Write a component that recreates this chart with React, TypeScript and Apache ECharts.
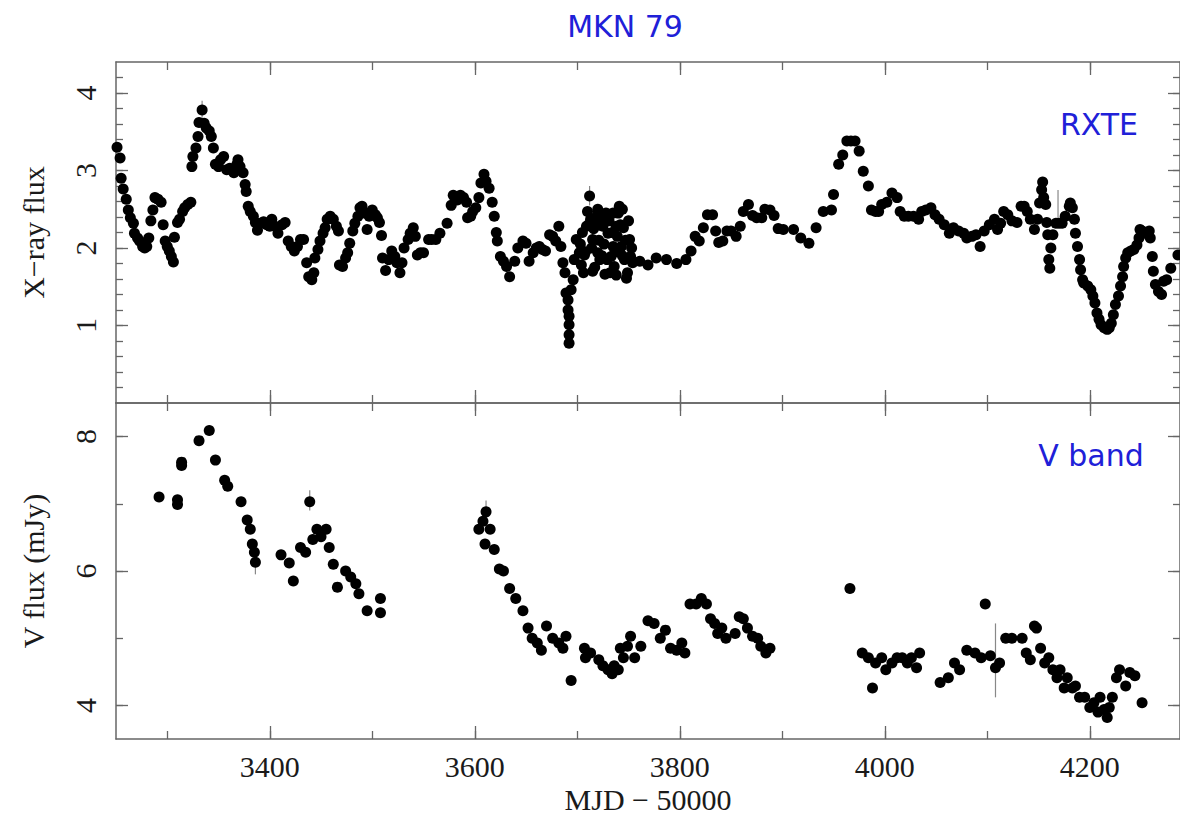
import React, { useEffect, useRef } from "react";
import * as echarts from "echarts";

// ---- axis ranges / ticks ----
const X_MIN = 3250;
const X_MAX = 4288;
const xLabelTicks = [3400, 3600, 3800, 4000, 4200];
const xMinorTicks = [3300, 3400, 3500, 3600, 3700, 3800, 3900, 4000, 4100, 4200];
const yTopMajor = [1, 2, 3, 4];
const yTopMinor = [0.2, 0.4, 0.6, 0.8, 1, 1.2, 1.4, 1.6, 1.8, 2, 2.2, 2.4, 2.6, 2.8, 3, 3.2, 3.4, 3.6, 3.8, 4, 4.2];
const yBotMajor = [4, 6, 8];
const yBotMinor = [4, 5, 6, 7, 8];

// ---- RXTE X-ray light curve ----
const rxteMjd = [
  3249, 3251, 3254, 3255, 3257, 3260, 3262, 3264, 3267, 3268, 3271, 3273, 3276, 3278, 3280, 3282, 3284, 3286, 3288, 3291,
  3294, 3296, 3298, 3300, 3302, 3304, 3306, 3307, 3310, 3312, 3315, 3317, 3320, 3323, 3324, 3325, 3328, 3330, 3331, 3334,
  3336, 3338, 3341, 3343, 3345, 3347, 3350, 3352, 3355, 3358, 3361, 3363, 3365, 3368, 3369, 3371, 3374, 3376, 3377, 3379,
  3381, 3384, 3386, 3388, 3391, 3394, 3397, 3400, 3402, 3405, 3408, 3412, 3415, 3418, 3421, 3424, 3427, 3430, 3433, 3436,
  3438, 3441, 3443, 3444, 3447, 3449, 3452, 3454, 3456, 3459, 3462, 3465, 3467, 3468, 3471, 3474, 3476, 3478, 3481, 3483,
  3486, 3488, 3490, 3493, 3495, 3497, 3500, 3503, 3505, 3507, 3509, 3510, 3513, 3516, 3519, 3522, 3524, 3527, 3529, 3531,
  3535, 3537, 3540, 3542, 3544, 3547, 3550, 3555, 3558, 3562, 3566, 3573, 3577, 3579, 3583, 3586, 3589, 3592, 3593, 3596,
  3598, 3601, 3604, 3606, 3609, 3611, 3614, 3617, 3619, 3621, 3622, 3625, 3628, 3631, 3634, 3639, 3642, 3647, 3650, 3653,
  3657, 3660, 3663, 3666, 3669, 3673, 3676, 3679, 3682, 3684, 3686, 3688, 3689, 3691, 3691, 3692, 3692, 3692, 3692, 3694,
  3696, 3697, 3699, 3702, 3704, 3706, 3707, 3709, 3710, 3712, 3713, 3715, 3719, 3720, 3722, 3725, 3727, 3728, 3730, 3732,
  3733, 3735, 3736, 3738, 3740, 3741, 3743, 3745, 3746, 3748, 3749, 3751, 3752, 3754,
  3703, 3705, 3708, 3711, 3714, 3716, 3717, 3718, 3721, 3723, 3724, 3726, 3729, 3731, 3734, 3737, 3739, 3742, 3744, 3747,
  3750, 3753, 3744, 3720, 3735, 3715, 3738,
  3761, 3769, 3777, 3787, 3797, 3806, 3811, 3815, 3819, 3823, 3827, 3832, 3835, 3838, 3842, 3846, 3850, 3855, 3859, 3862,
  3867, 3871, 3875, 3880, 3883, 3888, 3892, 3896, 3901, 3911, 3918, 3926, 3933, 3940, 3948, 3950, 3955, 3959, 3963, 3967,
  3971, 3975, 3979, 3984, 3987, 3991, 3994, 3997, 4002, 4007, 4012, 4015, 4019, 4023, 4028, 4033, 4036, 4040, 4045, 4049,
  4053, 4058, 4063, 4067, 4072, 4077, 4080, 4085, 4089, 4093, 4097, 4102, 4107, 4110, 4113, 4116, 4120, 4124, 4129, 4133,
  4136, 4139, 4142, 4146, 4149, 4151, 4153, 4154, 4155, 4157, 4158, 4159, 4160, 4161, 4162, 4164, 4167, 4170, 4173, 4176,
  4180, 4181, 4183, 4185, 4186, 4188, 4190, 4191, 4193, 4194, 4198, 4201, 4203, 4205, 4207, 4209, 4211, 4214, 4217, 4219,
  4221, 4223, 4225, 4228, 4230, 4232, 4233, 4235, 4237, 4240, 4243, 4246, 4248, 4249, 4251, 4254, 4258, 4259, 4261, 4262,
  4264, 4267, 4270, 4272, 4275, 4279, 4286,
];
const rxteFlux = [
  3.48, 3.3, 3.16, 2.9, 2.76, 2.63, 2.49, 2.39, 2.32, 2.19, 2.13, 2.09, 2.02, 2.0, 2.02, 2.13, 2.35, 2.49, 2.65, 2.63,
  2.59, 2.3, 2.09, 2.02, 1.96, 1.89, 1.82, 2.14, 2.33, 2.37, 2.47, 2.52, 2.56, 2.59, 3.05, 3.18, 3.29, 3.44, 3.62, 3.78,
  3.61, 3.55, 3.51, 3.44, 3.29, 3.08, 3.05, 3.14, 3.18, 3.01, 3.03, 3.01, 2.97, 3.08, 3.14, 3.05, 2.97, 2.82, 2.73, 2.54,
  2.47, 2.41, 2.33, 2.23, 2.32, 2.34, 2.3, 2.28, 2.37, 2.28, 2.19, 2.3, 2.33, 2.09, 2.02, 1.96, 2.02, 2.11, 2.11, 1.81,
  1.63, 1.59, 1.68, 1.87, 1.98, 2.09, 2.19, 2.26, 2.37, 2.41, 2.37, 2.28, 2.22, 1.78, 1.76, 1.87, 1.94, 2.06, 2.22, 2.32,
  2.41, 2.52, 2.54, 2.45, 2.24, 2.41, 2.49, 2.43, 2.39, 2.33, 2.16, 1.87, 1.71, 1.85, 1.96, 1.89, 1.81, 1.68, 1.81, 2.0,
  2.11, 2.19, 2.26, 2.15, 1.91, 1.94, 1.94, 2.11, 2.11, 2.11, 2.19, 2.32, 2.55, 2.68, 2.62, 2.68, 2.65, 2.59, 2.39, 2.41,
  2.47, 2.52, 2.65, 2.84, 2.95, 2.86, 2.77, 2.59, 2.41, 2.2, 2.09, 1.89, 1.83, 1.76, 1.63, 1.83, 2.0, 2.09, 2.06, 1.83,
  1.94, 2.0, 2.02, 1.98, 1.96, 2.17, 2.15, 2.09, 2.28, 2.02, 1.81, 1.68, 1.42, 1.33, 1.2, 1.12, 1.01, 0.88, 0.77, 1.46,
  1.59, 1.85, 2.11, 1.94, 1.78, 1.68, 1.91, 2.28, 2.47, 2.67, 2.37, 2.11, 2.41, 1.94, 1.85, 2.28, 1.66, 2.45, 2.19, 1.68,
  1.89, 2.02, 1.76, 2.28, 2.45, 2.54, 2.02, 2.26, 1.85, 1.61, 1.68, 2.11, 1.89, 1.81,
  2.05, 2.2, 1.95, 2.3, 2.0, 2.25, 1.75, 2.35, 2.1, 2.4, 1.9, 2.05, 1.85, 2.35, 2.2, 1.95, 2.15, 2.3, 1.9, 2.1,
  2.35, 2.0, 2.5, 2.5, 2.45, 1.7, 1.65,
  1.83, 1.78, 1.87, 1.85, 1.8, 1.85, 1.96, 2.15, 2.09, 2.26, 2.43, 2.43, 2.22, 2.07, 2.09, 2.22, 2.22, 2.15, 2.28, 2.47,
  2.56, 2.42, 2.39, 2.39, 2.5, 2.49, 2.42, 2.25, 2.24, 2.24, 2.13, 2.06, 2.26, 2.47, 2.49, 2.69, 3.08, 3.2, 3.38, 3.38,
  3.38, 3.25, 2.99, 2.8, 2.49, 2.47, 2.47, 2.56, 2.59, 2.71, 2.65, 2.47, 2.41, 2.41, 2.41, 2.37, 2.47, 2.49, 2.52, 2.43,
  2.37, 2.3, 2.19, 2.26, 2.22, 2.19, 2.13, 2.15, 2.17, 2.02, 2.22, 2.3, 2.37, 2.24, 2.32, 2.47, 2.43, 2.35, 2.33, 2.54,
  2.54, 2.47, 2.37, 2.24, 2.37, 2.58, 2.75, 2.85, 2.65, 2.56, 2.33, 2.17, 1.85, 1.74, 2.0, 2.17, 2.32, 2.32, 2.32, 2.41,
  2.54, 2.58, 2.52, 2.37, 2.19, 2.02, 1.85, 1.72, 1.59, 1.55, 1.51, 1.46, 1.38, 1.29, 1.16, 1.08, 1.01, 0.97, 0.95, 0.97,
  1.03, 1.14, 1.27, 1.38, 1.51, 1.63, 1.76, 1.87, 1.94, 1.96, 1.98, 2.04, 2.13, 2.24, 2.22, 2.19, 2.22, 2.13, 1.89, 1.7,
  1.53, 1.44, 1.4, 1.57, 1.59, 1.74, 1.91,
];

// ---- V band light curve ----
const vMjd = [
  3292, 3310, 3310, 3314, 3314, 3331, 3341, 3347, 3356, 3359, 3372, 3378, 3381, 3383, 3385, 3386,
  3411, 3419, 3423, 3430, 3435, 3439, 3442, 3446, 3450, 3455, 3458, 3462, 3466, 3474, 3479, 3484, 3487, 3495, 3508, 3508,
  3604, 3608, 3611, 3610, 3615, 3619, 3624, 3628, 3634, 3640, 3647, 3652, 3656, 3661, 3665, 3670, 3676, 3682, 3686, 3689,
  3694, 3707, 3708, 3713, 3721, 3725, 3730, 3734, 3736, 3740, 3742, 3745, 3749, 3752, 3756, 3762, 3769, 3775, 3781, 3786,
  3791, 3797, 3802, 3805, 3810, 3816, 3821, 3826, 3830, 3834, 3837, 3841, 3845, 3854, 3858, 3862, 3866, 3871, 3876, 3879,
  3884, 3888,
  3966, 3978, 3984, 3988, 3991, 3997, 4001, 4007, 4012, 4017, 4022, 4026, 4031, 4034, 4054, 4062, 4068, 4073, 4080, 4088,
  4094, 4098, 4103, 4108, 4112, 4118, 4124, 4134, 4138, 4142, 4146, 4148, 4152, 4156, 4160, 4164, 4168, 4171, 4175, 4178,
  4183, 4186, 4190, 4195, 4200, 4204, 4208, 4210, 4214, 4217, 4219, 4222, 4226, 4229, 4235, 4239, 4244, 4251,
];
const vFlux = [
  7.1, 7.06, 6.99, 7.57, 7.62, 7.94, 8.09, 7.65, 7.35, 7.26, 7.03, 6.76, 6.62, 6.4, 6.28, 6.13,
  6.24, 6.12, 5.85, 6.35, 6.28, 7.03, 6.47, 6.62, 6.51, 6.62, 6.35, 6.1, 5.76, 6.0, 5.91, 5.81, 5.66, 5.41, 5.59, 5.38,
  6.62, 6.74, 6.88, 6.4, 6.62, 6.32, 6.03, 6.0, 5.74, 5.59, 5.41, 5.15, 5.0, 4.93, 4.82, 5.18, 5.0, 4.93, 4.85, 5.03,
  4.37, 4.85, 4.71, 4.78, 4.68, 4.59, 4.53, 4.47, 4.59, 4.53, 4.85, 4.71, 4.88, 5.03, 4.71, 4.88, 5.26, 5.22, 5.0, 5.12,
  4.85, 4.82, 4.93, 4.78, 5.51, 5.51, 5.59, 5.51, 5.29, 5.22, 5.07, 5.15, 5.0, 5.07, 5.32, 5.29, 5.15, 5.03, 5.0, 4.88,
  4.78, 4.85,
  5.74, 4.78, 4.71, 4.26, 4.63, 4.71, 4.53, 4.63, 4.71, 4.71, 4.63, 4.71, 4.56, 4.78, 4.34, 4.41, 4.63, 4.53, 4.82, 4.78,
  4.71, 5.51, 4.74, 4.56, 4.63, 5.0, 5.0, 5.0, 4.78, 4.68, 5.18, 5.15, 4.85, 4.63, 4.71, 4.53, 4.41, 4.53, 4.26, 4.41,
  4.26, 4.29, 4.12, 4.12, 3.97, 4.04, 3.9, 4.12, 3.94, 3.82, 3.97, 4.12, 4.41, 4.53, 4.29, 4.49, 4.44, 4.04,
];

// a few visible error bars: [mjd, low, high]
const rxteErr = [
  [4169, 2.28, 2.75],
  [3334, 3.68, 3.9],
  [3712, 2.55, 2.8],
];
const vErr = [
  [4108, 4.12, 5.22],
  [3439, 6.9, 7.2],
  [3611, 6.75, 7.05],
  [3386, 5.95, 6.3],
];

const BLUE = "#2020d8";
const AXIS = "#666666";
const SERIF = "'Liberation Serif', 'Times New Roman', serif";
const SANS = "'DejaVu Sans', Verdana, sans-serif";

function zip(a: number[], b: number[]) {
  return a.map((v, i) => [v, b[i]]);
}

const plain = (v: number) => String(v);

function xAxisDef(grid: number, position: "top" | "bottom", ticks: number[], len: number, main: boolean, labels: boolean) {
  return {
    type: "value",
    gridIndex: grid,
    position,
    min: X_MIN,
    max: X_MAX,
    axisLine: { show: main, onZero: false, lineStyle: { color: AXIS, width: 1.5 } },
    axisTick: { show: true, inside: true, length: len, customValues: ticks, lineStyle: { color: AXIS, width: 1.3 } },
    axisLabel: labels
      ? { show: true, customValues: xLabelTicks, formatter: plain, fontSize: 30, fontFamily: SERIF, color: "#1a1a1a", margin: 12 }
      : { show: false },
    splitLine: { show: false },
    name: labels ? "MJD \u2212 50000" : "",
    nameLocation: "middle",
    nameGap: 45,
    nameTextStyle: { fontSize: 30, fontFamily: SERIF, color: "#1a1a1a" },
  };
}

function yAxisDef(
  grid: number,
  position: "left" | "right",
  min: number,
  max: number,
  ticks: number[],
  len: number,
  main: boolean,
  labelVals: number[] | null,
  name: string
) {
  return {
    type: "value",
    gridIndex: grid,
    position,
    min,
    max,
    axisLine: { show: main, onZero: false, lineStyle: { color: AXIS, width: 1.5 } },
    axisTick: { show: true, inside: true, length: len, customValues: ticks, lineStyle: { color: AXIS, width: 1.3 } },
    axisLabel: labelVals
      ? { show: true, customValues: labelVals, formatter: plain, rotate: 90, fontSize: 30, fontFamily: SERIF, color: "#1a1a1a", margin: 16 }
      : { show: false },
    splitLine: { show: false },
    name,
    nameLocation: "middle",
    nameGap: 68,
    nameTextStyle: { fontSize: 30, fontFamily: SERIF, color: "#1a1a1a" },
  };
}

function errSeries(data: number[][], xi: number, yi: number) {
  return {
    type: "custom",
    xAxisIndex: xi,
    yAxisIndex: yi,
    data,
    z: 1,
    renderItem: (params: any, api: any) => {
      const p1 = api.coord([api.value(0), api.value(1)]);
      const p2 = api.coord([api.value(0), api.value(2)]);
      return {
        type: "line",
        shape: { x1: p1[0], y1: p1[1], x2: p2[0], y2: p2[1] },
        style: { stroke: "#888", lineWidth: 1.2 },
      };
    },
  };
}

export default function App() {
  const ref = useRef<HTMLDivElement>(null);
  useEffect(() => {
    if (!ref.current) return;
    const chart = echarts.init(ref.current, null, { renderer: "svg" });
    const option: any = {
      animation: false,
      backgroundColor: "#ffffff",
      grid: [
        { left: 116, top: 62, width: 1064, height: 341 },
        { left: 116, top: 403, width: 1064, height: 340 },
      ],
      xAxis: [
        xAxisDef(0, "bottom", xLabelTicks, 13, true, false),
        xAxisDef(0, "bottom", xMinorTicks, 8, false, false),
        xAxisDef(0, "top", xLabelTicks, 13, true, false),
        xAxisDef(0, "top", xMinorTicks, 8, false, false),
        xAxisDef(1, "bottom", xLabelTicks, 13, true, true),
        xAxisDef(1, "bottom", xMinorTicks, 8, false, false),
        xAxisDef(1, "top", xLabelTicks, 13, true, false),
        xAxisDef(1, "top", xMinorTicks, 8, false, false),
      ],
      yAxis: [
        yAxisDef(0, "left", 0, 4.4, yTopMajor, 12, true, yTopMajor, "X\u2212ray flux"),
        yAxisDef(0, "left", 0, 4.4, yTopMinor, 7, false, null, ""),
        yAxisDef(0, "right", 0, 4.4, yTopMajor, 12, true, null, ""),
        yAxisDef(0, "right", 0, 4.4, yTopMinor, 7, false, null, ""),
        yAxisDef(1, "left", 3.5, 8.5, yBotMajor, 12, true, yBotMajor, "V flux (mJy)"),
        yAxisDef(1, "left", 3.5, 8.5, yBotMinor, 7, false, null, ""),
        yAxisDef(1, "right", 3.5, 8.5, yBotMajor, 12, true, null, ""),
        yAxisDef(1, "right", 3.5, 8.5, yBotMinor, 7, false, null, ""),
      ],
      series: [
        errSeries(rxteErr, 0, 0),
        errSeries(vErr, 4, 4),
        {
          type: "scatter",
          xAxisIndex: 0,
          yAxisIndex: 0,
          data: zip(rxteMjd, rxteFlux),
          symbol: "circle",
          symbolSize: 11,
          itemStyle: { color: "#000", opacity: 1 },
          z: 3,
        },
        {
          type: "scatter",
          xAxisIndex: 4,
          yAxisIndex: 4,
          data: zip(vMjd, vFlux),
          symbol: "circle",
          symbolSize: 11,
          itemStyle: { color: "#000", opacity: 1 },
          z: 3,
        },
      ],
      graphic: [
        {
          type: "text",
          x: 625,
          y: 26,
          style: { text: "MKN 79", fill: BLUE, font: `30px ${SANS}`, align: "center", verticalAlign: "middle" },
        },
        {
          type: "text",
          x: 1099,
          y: 124,
          style: { text: "RXTE", fill: BLUE, font: `30px ${SANS}`, align: "center", verticalAlign: "middle" },
        },
        {
          type: "text",
          x: 1091,
          y: 455,
          style: { text: "V band", fill: BLUE, font: `30px ${SANS}`, align: "center", verticalAlign: "middle" },
        },
      ],
    };
    chart.setOption(option);
    return () => chart.dispose();
  }, []);
  return (
    <div
      ref={ref}
      style={{ position: "absolute", left: 0, top: 0, width: 1180, height: 815, background: "#fff" }}
    />
  );
}
